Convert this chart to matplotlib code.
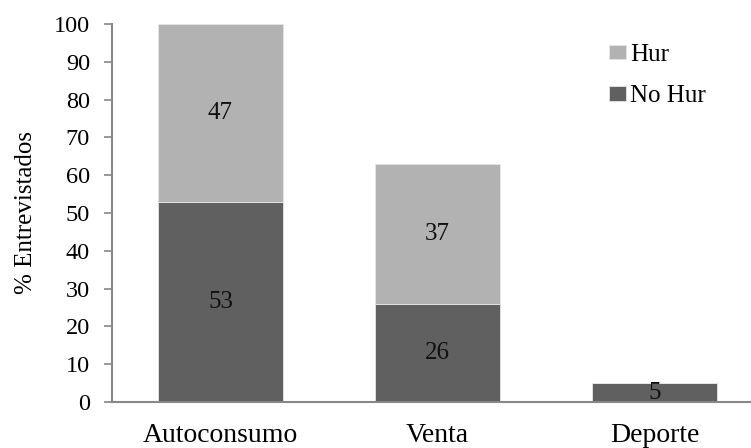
import matplotlib
matplotlib.use("Agg")
import matplotlib.pyplot as plt
import numpy as np

categories = ["Autoconsumo", "Venta", "Deporte"]
no_hur = [53, 26, 5]
hur = [47, 37, 0]
y_ticks = list(range(0, 101, 10))

plt.rcParams["font.family"] = ["Liberation Serif", "DejaVu Serif"]

W, H = 751, 448
fig = plt.figure(figsize=(W / 100, H / 100), dpi=100)
ax = fig.add_axes([112 / W, 46 / H, 651 / W, 378 / H])

x = np.arange(len(categories))
width = 0.577
dark = "#606060"
light = "#b2b2b2"

b1 = ax.bar(x, no_hur, width, color=dark, edgecolor="#e6e6e6", linewidth=0.6, label="No Hur")
b2 = ax.bar(x, hur, width, bottom=no_hur, color=light, edgecolor="#e6e6e6", linewidth=0.6, label="Hur")

for xi, v in zip(x, no_hur):
    if v > 0:
        ax.text(xi, v / 2, f"{v}", ha="center", va="center", fontsize=18, color="#111111")
for xi, b, v in zip(x, no_hur, hur):
    if v > 0:
        ax.text(xi, b + v / 2, f"{v}", ha="center", va="center", fontsize=18, color="#111111")

ax.set_xlim(-0.5, 2.5)
ax.set_ylim(0, 100)
ax.set_yticks(y_ticks)
ax.set_xticks(x)
ax.set_xticklabels(categories, fontsize=20)
ax.tick_params(axis="x", length=0, pad=15)
ax.tick_params(axis="y", length=5.8, width=1.2, color="#888888", labelsize=17.5, pad=10)
ax.set_ylabel("% Entrevistados", fontsize=18)
ax.yaxis.set_label_coords(-(112 - 37) / 651, 0.5)

for s in ["top", "right"]:
    ax.spines[s].set_visible(False)
for s in ["left", "bottom"]:
    ax.spines[s].set_color("#888888")
    ax.spines[s].set_linewidth(1.5)

handles = [b2, b1]
leg = fig.legend(handles, ["Hur", "No Hur"], loc="upper left",
                 bbox_to_anchor=(609 / W, 1 - 44 / H), bbox_transform=fig.transFigure,
                 frameon=False, fontsize=18, handlelength=0.68, handleheight=0.52,
                 handletextpad=0.18, labelspacing=0.78, borderpad=0, borderaxespad=0)

fig.savefig("out.png", dpi=100)
